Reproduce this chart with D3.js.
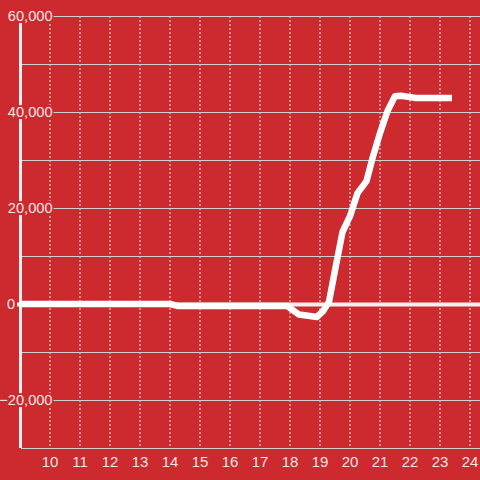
<!DOCTYPE html>
<html><head><meta charset="utf-8">
<script src="https://cdn.jsdelivr.net/npm/d3@7"></script>
<style>html,body{margin:0;padding:0;background:#cc2a2e;}svg{display:block;}</style>
</head><body>
<script>
const hours  = [9, 14, 14.25, 17.9, 18.3, 18.9, 19.1, 19.3, 19.5, 19.75, 20.0, 20.25, 20.55, 20.75, 21.0, 21.25, 21.5, 21.7, 22.0, 22.2, 23.4];
const values = [0, 0, -400, -400, -2200, -2700, -1500, 500, 7000, 15000, 18300, 23100, 25600, 30400, 35600, 40200, 43300, 43400, 43100, 42900, 42900];
const xTicks = [10,11,12,13,14,15,16,17,18,19,20,21,22,23,24];
const yGrid  = [60000,50000,40000,30000,20000,10000,0,-10000,-20000,-30000];
const yLabels = [60000,40000,20000,0,-20000];

const W = 480, H = 480;
const svg = d3.select("body").append("svg").attr("width", W).attr("height", H);
svg.append("rect").attr("width", W).attr("height", H).attr("fill", "#cc2a2e");

const x = d3.scaleLinear().domain([9, 9 + 460/30]).range([20, 480]);
const y = d3.scaleLinear().domain([-30000, 60000]).range([448, 16]);

// vertical dashed grid
svg.append("g").selectAll("line").data(xTicks).join("line")
  .attr("x1", d => x(d)).attr("x2", d => x(d))
  .attr("y1", y(60000)).attr("y2", y(-30000))
  .attr("stroke", "#e6e6e6").attr("stroke-width", 1).attr("stroke-dasharray", "2,2");

// horizontal grid
svg.append("g").selectAll("line").data(yGrid.filter(d => d !== 0)).join("line")
  .attr("x1", 21).attr("x2", W)
  .attr("y1", d => y(d) + 0.5).attr("y2", d => y(d) + 0.5)
  .attr("stroke", "#cfcfcf").attr("stroke-width", 1);

// y axis line
svg.append("line").attr("x1", 20.5).attr("x2", 20.5).attr("y1", y(60000)).attr("y2", y(-30000))
  .attr("stroke", "#f0f0f0").attr("stroke-width", 3);

// zero line
svg.append("line").attr("x1", 17).attr("x2", W).attr("y1", y(0) + 0.5).attr("y2", y(0) + 0.5)
  .attr("stroke", "#f0f0f0").attr("stroke-width", 4);

// y labels with background
const fmt = d3.format(",");
const yl = svg.append("g").attr("font-family", "Liberation Sans, Arial, sans-serif").attr("font-size", 14.6);
yLabels.forEach(v => {
  const g = yl.append("g");
  const t = g.append("text")
    .attr("x", v === 0 ? 7 : 52.5)
    .attr("y", y(v))
    .attr("dy", "0.35em")
    .attr("text-anchor", v === 0 ? "start" : "end")
    .attr("fill", "#f5e4e4")
    .text(fmt(v));
  const bb = t.node().getBBox();
  g.insert("rect", "text")
    .attr("x", bb.x - 1).attr("y", bb.y + 1).attr("width", bb.width + 2).attr("height", bb.height - 2)
    .attr("fill", "#cc2a2e");
});

// x labels
svg.append("g").attr("font-family", "Liberation Sans, Arial, sans-serif").attr("font-size", 15)
  .selectAll("text").data(xTicks).join("text")
  .attr("x", d => x(d)).attr("y", 466.5)
  .attr("text-anchor", "middle").attr("fill", "#f5e4e4")
  .text(d => d);

// data line
const data = hours.map((h, i) => [h, values[i]]);
svg.append("path").datum(data)
  .attr("d", d3.line().x(d => x(d[0])).y(d => y(d[1])))
  .attr("fill", "none").attr("stroke", "#ffffff").attr("stroke-width", 6.5)
  .attr("stroke-linejoin", "round").attr("stroke-linecap", "butt");
</script>
</body></html>
